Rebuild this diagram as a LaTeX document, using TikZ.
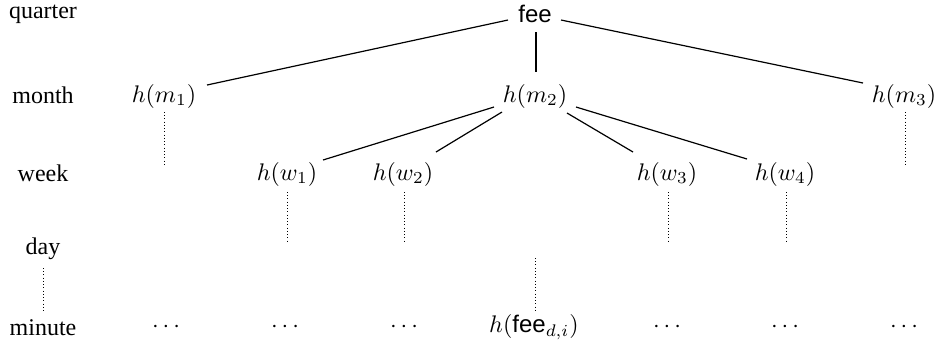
\documentclass[tikz,border=0pt]{standalone}
\usepackage[no-math]{fontspec}
\usetikzlibrary{calc}
\newfontfamily\lblfont{Liberation Serif}
\newfontfamily\hvfont{Liberation Sans}
\newcommand{\feetxt}{\mbox{\hvfont fee}}
\begin{document}
\begin{tikzpicture}[x=0.4167pt,y=-0.4167pt,
  lvl/.style={font=\lblfont, inner sep=0pt},
  nd/.style={inner sep=0pt},
  edge/.style={line width=0.5pt},
  dots/.style={line width=0.4pt, dash pattern=on 0.4pt off 0.95pt}]
\useasboundingbox (0,0) rectangle (939,347);
% level labels
\node[lvl] (Lq) at (43,14) {quarter};
\node[lvl] (Lm) at (43,95) {month};
\node[lvl] (Lw) at (43,173) {week};
\node[lvl] (Ld) at (43,249) {day};
\node[lvl] (Ln) at (43,328) {minute};
% tree nodes
\node[nd] (fee) at (535,14) {\hvfont fee};
\node[nd] (m1) at (164,96) {$h(m_1)$};
\node[nd] (m2) at (535,96) {$h(m_2)$};
\node[nd] (m3) at (904,96) {$h(m_3)$};
\node[nd] (w1) at (287,174) {$h(w_1)$};
\node[nd] (w2) at (403,174) {$h(w_2)$};
\node[nd] (w3) at (667,174) {$h(w_3)$};
\node[nd] (w4) at (785,174) {$h(w_4)$};
\node[nd] (n1) at (166,327) {$\cdots$};
\node[nd] (n2) at (285,327) {$\cdots$};
\node[nd] (n3) at (404,327) {$\cdots$};
\node[nd] (nf) at (534,327) {$h(\feetxt_{d,i})$};
\node[nd] (n5) at (667,327) {$\cdots$};
\node[nd] (n6) at (785,327) {$\cdots$};
\node[nd] (n7) at (904,327) {$\cdots$};
% edges
\draw[edge] ($(fee)+(-27,6)$) -- ($(m1)+(43,-11)$);
\draw[edge] ($(fee)+(26,6)$) -- ($(m3)+(-41,-13)$);
\draw[edge] ($(fee)+(1,18)$) -- ($(m2)+(1,-24)$);
\draw[edge] ($(m2)+(-41,11)$) -- ($(w1)+(36,-14)$);
\draw[edge] ($(m2)+(-33,16)$) -- ($(w2)+(33,-22)$);
\draw[edge] ($(m2)+(32,17)$) -- ($(w3)+(-34,-22)$);
\draw[edge] ($(m2)+(41,11)$) -- ($(w4)+(-38,-15)$);
% dotted continuations
\draw[dots] ($(m1)+(0,16)$) -- ++(0,52);
\draw[dots] ($(m3)+(1,16)$) -- ++(0,52);
\draw[dots] ($(w1)+(0,18)$) -- ++(0,51);
\draw[dots] ($(w2)+(1,18)$) -- ++(0,51);
\draw[dots] ($(w3)+(1,18)$) -- ++(0,51);
\draw[dots] ($(w4)+(1,18)$) -- ++(0,51);
\draw[dots] ($(Ld)+(0,19)$) -- ($(Ln)+(0,-15)$);
\draw[dots] ($(nf)+(1,-69)$) -- ($(nf)+(1,-17)$);
\end{tikzpicture}
\end{document}
